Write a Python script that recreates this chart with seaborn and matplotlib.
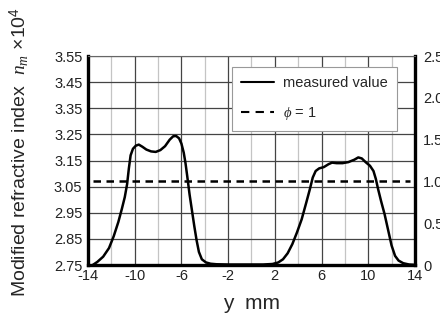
import numpy as np
import pandas as pd
import seaborn as sns
import matplotlib.pyplot as plt
from matplotlib.lines import Line2D

# measured profile (y in mm, n_m x 10^4)
y_mm = [-13.6, -13.2, -12.7, -12.2, -11.8, -11.4, -11.1, -10.85, -10.65, -10.5,
        -10.35, -10.15, -9.9, -9.65, -9.35, -9.0, -8.6, -8.2, -7.8, -7.4,
        -7.0, -6.7, -6.45, -6.2, -6.0, -5.8, -5.65, -5.5, -5.3, -5.1,
        -4.9, -4.7, -4.5, -4.25, -3.9, -3.5, -3.0, -2.0, 0.0, 1.0,
        1.8, 2.3, 2.7, 3.1, 3.5, 3.9, 4.3, 4.7, 5.0, 5.25,
        5.5, 5.8, 6.2, 6.6, 6.9, 7.3, 7.8, 8.3, 8.8, 9.15,
        9.45, 9.8, 10.15, 10.45, 10.65, 10.85, 11.1, 11.4, 11.7, 12.0,
        12.3, 12.6, 13.0, 13.5, 13.9]
n_m = [2.750, 2.762, 2.782, 2.815, 2.860, 2.915, 2.965, 3.010, 3.060, 3.120,
       3.170, 3.195, 3.207, 3.211, 3.203, 3.192, 3.185, 3.183, 3.190, 3.205,
       3.230, 3.243, 3.244, 3.235, 3.215, 3.180, 3.140, 3.090, 3.020, 2.960,
       2.900, 2.845, 2.800, 2.772, 2.760, 2.755, 2.753, 2.752, 2.752, 2.752,
       2.754, 2.760, 2.772, 2.795, 2.830, 2.875, 2.925, 2.990, 3.040, 3.085,
       3.110, 3.120, 3.125, 3.136, 3.142, 3.140, 3.140, 3.144, 3.153, 3.162,
       3.158, 3.143, 3.130, 3.110, 3.080, 3.040, 2.995, 2.945, 2.885, 2.825,
       2.785, 2.767, 2.757, 2.752, 2.751]

# phi = 1 reference (right axis)
phi_y = [-13.55, 13.55]
phi_val = [1.0, 1.0]

x_ticks = [-14, -10, -6, -2, 2, 6, 10, 14]
y_ticks = [2.75, 2.85, 2.95, 3.05, 3.15, 3.25, 3.35, 3.45, 3.55]
r_ticks = [0, 0.5, 1.0, 1.5, 2.0, 2.5]
r_labels = ["0", "0.5", "1.0", "1.5", "2.0", "2.5"]

sns.set_style("white")
plt.rcParams['font.family'] = ['Liberation Sans', 'DejaVu Sans']
plt.rcParams['axes.unicode_minus'] = False
plt.rcParams['mathtext.fontset'] = 'custom'
plt.rcParams['mathtext.rm'] = 'Liberation Sans'
plt.rcParams['mathtext.it'] = 'Liberation Serif:italic'
plt.rcParams['mathtext.bf'] = 'Liberation Sans:bold'

fig = plt.figure(figsize=(4.4, 3.24), dpi=100)
ax = fig.add_axes([0.2, 0.182, 0.743, 0.645])

df = pd.DataFrame({"y": y_mm, "n": n_m})
sns.lineplot(data=df, x="y", y="n", ax=ax, color="black", lw=1.8, sort=False)

ax.set_xlim(-14, 14)
ax.set_ylim(2.75, 3.55)
ax.set_xticks(x_ticks)
ax.set_xticks(np.arange(-12, 14, 4), minor=True)
ax.set_yticks(y_ticks)
ax.set_yticklabels([f"{v:.2f}" for v in y_ticks])
ax.grid(True, which="major", color="#444444", lw=0.9)
ax.grid(True, which="minor", axis="x", color="#c4c4c4", lw=0.9)
ax.tick_params(axis="both", which="both", length=0, labelsize=10.5, colors="#222222")
ax.tick_params(axis="x", pad=3)
ax.tick_params(axis="y", pad=4)
for side in ["left", "bottom", "right"]:
    ax.spines[side].set_linewidth(2.4)
    ax.spines[side].set_color("black")
ax.spines["top"].set_linewidth(0.8)
ax.spines["top"].set_color("#666666")

ax.set_xlabel("y  mm", fontsize=15, labelpad=8)
ax.set_ylabel("Modified refractive index  $n_m$ ×10$^4$", fontsize=14)
ax.yaxis.set_label_coords(-0.173, 0.54)

ax2 = ax.twinx()
sns.lineplot(x=phi_y, y=phi_val, ax=ax2, color="black", lw=1.8)
ax2.lines[-1].set_dashes([3.0, 2.2])
ax2.set_ylim(0, 2.5)
ax2.set_yticks(r_ticks)
ax2.set_yticklabels(r_labels)
ax2.tick_params(axis="y", length=0, labelsize=10.5, colors="#222222", pad=6)
for side in ["left", "bottom", "right", "top"]:
    ax2.spines[side].set_visible(False)

handles = [Line2D([], [], color="black", lw=1.5),
           Line2D([], [], color="black", lw=1.5, dashes=[4, 3])]
leg = ax2.legend(handles, ["measured value", r"$\phi$ = 1"],
                 loc="upper left", bbox_to_anchor=(232 / 440, 1 - 67 / 324),
                 bbox_transform=fig.transFigure, borderaxespad=0,
                 fontsize=10.5, frameon=True, fancybox=False,
                 handlelength=2.3, handletextpad=0.6, borderpad=0.6,
                 labelspacing=1.05, framealpha=1, edgecolor="#999999")
leg.get_frame().set_linewidth(0.8)

fig.savefig("out.png", dpi=100)
